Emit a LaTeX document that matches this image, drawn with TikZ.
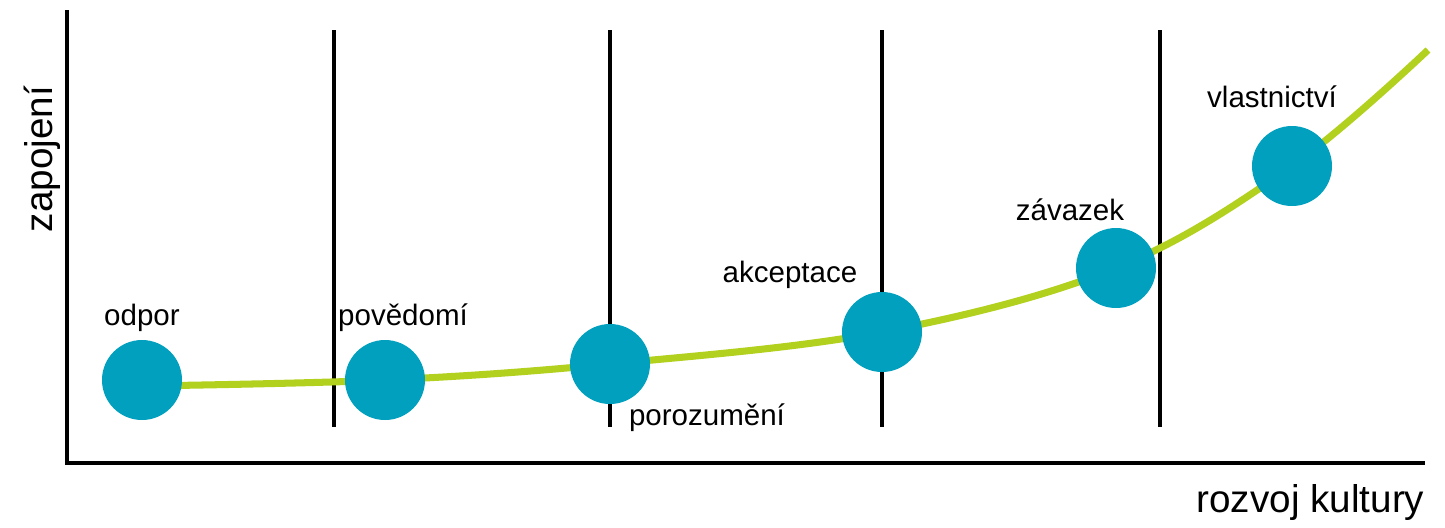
\documentclass[tikz,border=0pt]{standalone}
\usepackage{fontspec}
\setmainfont{Liberation Sans}
\definecolor{stagecol}{RGB}{0,160,190}
\definecolor{curvecol}{RGB}{178,208,30}
\begin{document}
\begin{tikzpicture}[scale=1]

	\tikzstyle{stage} = [circle, fill=stagecol, minimum size=0.8cm, inner sep=0pt]
	\tikzstyle{stage_label} = [font=\fontsize{8.4}{10}\selectfont, inner sep=0pt]
	\tikzstyle{axis_label} = [font=\fontsize{11}{13}\selectfont, inner sep=0pt]
	\tikzstyle{separator} = [draw=black, line width=1pt]

	\useasboundingbox (0,0) rectangle (14.45,5.27);

%------------------------------------------------------------
	\coordinate (top) at (0.67,5.17);
	\coordinate (origin) at (0.67,0.64);
	\coordinate (right) at (14.25,0.64);

	\draw[line width=1.2pt] (top) -- (origin) -- (right);

	\node[axis_label, rotate=90] (ylabel) at (0.42,3.68) {zapojení};
	\node[axis_label, anchor=east] (xlabel) at (14.25,0.25) {rozvoj kultury};

%------------------------------------------------------------

	\foreach \x [count=\i] in {3.34,6.10,8.82,11.60} {
		\coordinate (s\i) at (\x,4.97);
		\coordinate (b\i) at (\x,1.00);
		\draw[separator] (s\i) -- (b\i);
	}

%------------------------------------------------------------

	\coordinate (v0) at (1.42,1.41);
	\coordinate (v1) at (3.85,1.47);
	\coordinate (v2) at (6.10,1.63);
	\coordinate (v3) at (8.82,1.95);
	\coordinate (v4) at (11.16,2.59);
	\coordinate (v5) at (12.92,3.61);
	\coordinate (vend) at (14.28,4.77);

	\draw[curvecol, line width=2pt] plot[smooth, tension=0.6]
		coordinates {(v0) (v1) (v2) (v3) (v4) (v5) (vend)};

%------------------------------------------------------------

	\node[stage] (odpor) at (1.42,1.47) {};
	\node[stage] (povedomi) at (v1) {};
	\node[stage] (porozumeni) at (v2) {};
	\node[stage] (akceptace) at (v3) {};
	\node[stage] (zavazek) at (v4) {};
	\node[stage] (vlastnictvi) at (v5) {};

	\node[stage_label] (l0) at (1.42,2.09) {odpor};
	\node[stage_label] (l1) at (4.03,2.09) {povědomí};
	\node[stage_label] (l2) at (7.07,1.09) {porozumění};
	\node[stage_label] (l3) at (7.90,2.52) {akceptace};
	\node[stage_label] (l4) at (10.70,3.17) {závazek};
	\node[stage_label] (l5) at (12.72,4.30) {vlastnictví};

\end{tikzpicture}
\end{document}
